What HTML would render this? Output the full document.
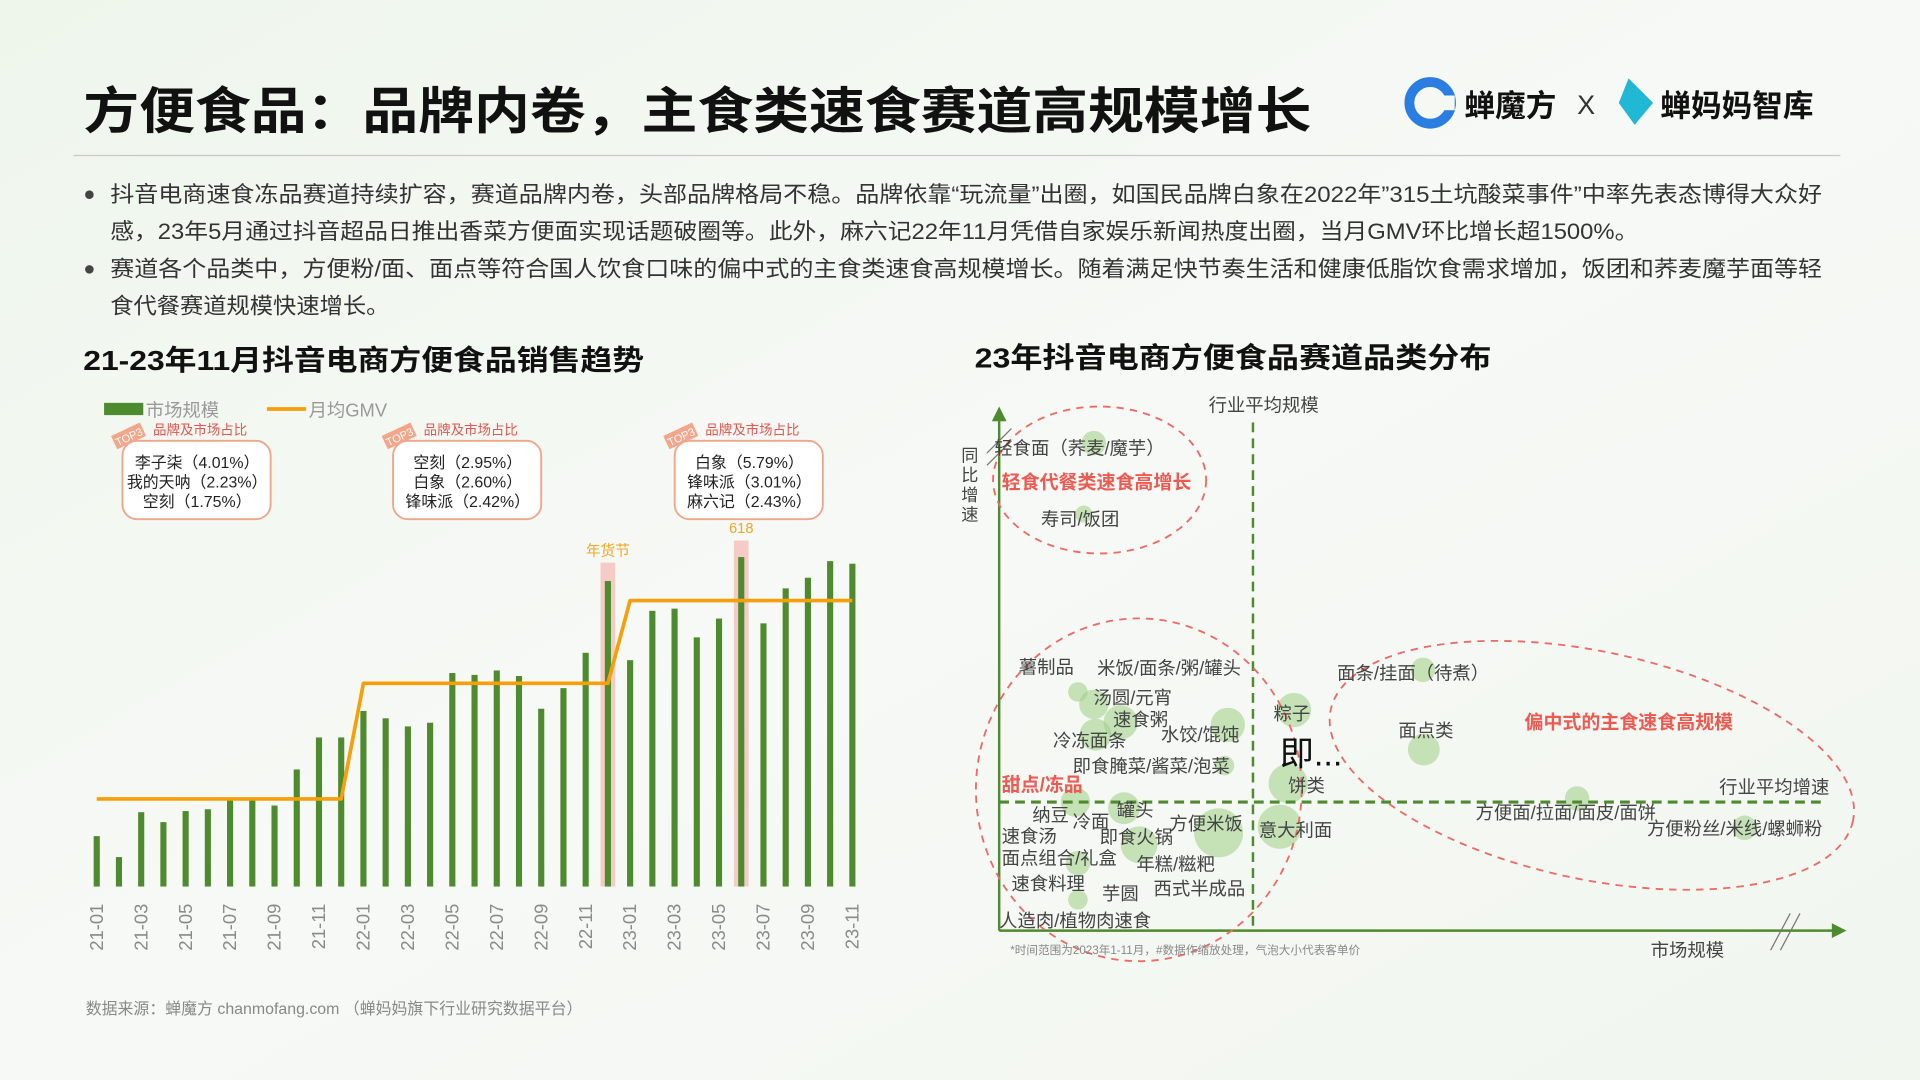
<!DOCTYPE html>
<html><head><meta charset="utf-8">
<style>
html,body{margin:0;padding:0;width:1920px;height:1080px;overflow:hidden;background:#f4f8f3;}
svg{display:block;font-family:"Liberation Sans","Noto Sans CJK SC",sans-serif;}
</style></head>
<body>
<svg id="root" width="1920" height="1080" viewBox="0 0 1568 882">
<defs>
<linearGradient id="bg" x1="0" y1="0" x2="1" y2="1">
<stop offset="0" stop-color="#eef6ec"/><stop offset="0.5" stop-color="#f7f9f6"/><stop offset="1" stop-color="#f1f6ef"/>
</linearGradient>
</defs>
<rect width="1568" height="882" fill="url(#bg)"/>

<text x="68" y="105" font-size="41" font-weight="bold" fill="#111" textLength="1003" lengthAdjust="spacingAndGlyphs">方便食品：品牌内卷，主食类速食赛道高规模增长</text>
<g>
<circle cx="1168" cy="84" r="17" fill="none" stroke="#2a7de1" stroke-width="8"/>
<rect x="1170" y="78" width="18" height="12" fill="#f4f8f3"/>
<text x="1196" y="95" font-size="25" font-weight="bold" fill="#111">蝉魔方</text>
</g>
<text x="1288" y="93" font-size="22" fill="#333">X</text>
<g>
<path d="M1330 64 L1350 84 L1335 102 L1322 84 Z" fill="#21b8d6"/>
<text x="1356" y="95" font-size="25" font-weight="bold" fill="#111">蝉妈妈智库</text>
</g>
<line x1="60" y1="127" x2="1503" y2="127" stroke="#c8c8c8" stroke-width="1"/>

<g font-size="18" fill="#333">
<circle cx="73" cy="159" r="3.5" fill="#444"/>
<text x="90" y="165" textLength="1398" lengthAdjust="spacingAndGlyphs">抖音电商速食冻品赛道持续扩容，赛道品牌内卷，头部品牌格局不稳。品牌依靠“玩流量”出圈，如国民品牌白象在2022年”315土坑酸菜事件”中率先表态博得大众好</text>
<text x="90" y="195" textLength="1248" lengthAdjust="spacingAndGlyphs">感，23年5月通过抖音超品日推出香菜方便面实现话题破圈等。此外，麻六记22年11月凭借自家娱乐新闻热度出圈，当月GMV环比增长超1500%。</text>
<circle cx="73" cy="220" r="3.5" fill="#444"/>
<text x="90" y="226" textLength="1398" lengthAdjust="spacingAndGlyphs">赛道各个品类中，方便粉/面、面点等符合国人饮食口味的偏中式的主食类速食高规模增长。随着满足快节奏生活和健康低脂饮食需求增加，饭团和荞麦魔芋面等轻</text>
<text x="90" y="256" textLength="228" lengthAdjust="spacingAndGlyphs">食代餐赛道规模快速增长。</text>
</g>

<text x="68" y="302" font-size="23" font-weight="bold" fill="#111" textLength="458" lengthAdjust="spacingAndGlyphs">21-23年11月抖音电商方便食品销售趋势</text>
<text x="796" y="300" font-size="23" font-weight="bold" fill="#111" textLength="422" lengthAdjust="spacingAndGlyphs">23年抖音电商方便食品赛道品类分布</text>

<g>
<rect x="85" y="329" width="32" height="10" fill="#4e8a2e"/>
<text x="119" y="340" font-size="15" fill="#999">市场规模</text>
<line x1="218" y1="334" x2="250" y2="334" stroke="#f5a00a" stroke-width="3"/>
<text x="252" y="340" font-size="15" fill="#999">月均GMV</text>
</g>

<g id="bars"></g>
<g id="bubble"></g>

<text x="70" y="828" font-size="13" fill="#888">数据来源：蝉魔方 chanmofang.com （蝉妈妈旗下行业研究数据平台）</text>
<text x="825" y="779" font-size="9.5" fill="#888">*时间范围为2023年1-11月，#数据作缩放处理，气泡大小代表客单价</text>

<script>
const NS="http://www.w3.org/2000/svg";
function mk(parent,tag,attrs,txt){const e=document.createElementNS(NS,tag);for(const k in attrs)e.setAttribute(k,attrs[k]);if(txt!==undefined)e.textContent=txt;parent.appendChild(e);return e;}

const months=["21-01","21-02","21-03","21-04","21-05","21-06","21-07","21-08","21-09","21-10","21-11","21-12","22-01","22-02","22-03","22-04","22-05","22-06","22-07","22-08","22-09","22-10","22-11","22-12","23-01","23-02","23-03","23-04","23-05","23-06","23-07","23-08","23-09","23-10","23-11"];
const marketSize=[137,80,202,175,205,210,235,242,220,318,405,405,477,457,435,445,580,575,587,572,483,539,635,830,615,749,755,677,728,895,715,810,839,884,877];
const gmvLevels=[238,238,238,238,238,238,238,238,238,238,238,238,552,552,552,552,552,552,552,552,552,552,552,552,777,777,777,777,777,777,777,777,777,777,777];
const highlights=["22-12","23-06"];
const highlightLabels=["年货节","618"];
const boxBrands=[["李子柒（4.01%）","我的天呐（2.23%）","空刻（1.75%）"],["空刻（2.95%）","白象（2.60%）","锋味派（2.42%）"],["白象（5.79%）","锋味派（3.01%）","麻六记（2.43%）"]];

const bx=i=>79+i*18.15;
const by=v=>724-v*0.3006;
const bars=document.getElementById('bars');
highlights.forEach((m,k)=>{
  const i=months.indexOf(m);
  const top=i===29?940:880;
  const r=mk(bars,'rect',{x:bx(i)-6,y:by(top),width:12,height:724-by(top),fill:'#f4b8b0',opacity:0.7});
  
  
  const t=mk(bars,'text',{x:bx(i),y:by(top)-6,'font-size':12,fill:'#f5a623','text-anchor':'middle'},highlightLabels[k]);
  
  
});
months.forEach((m,i)=>{
  const r=mk(bars,'rect',{x:bx(i)-2.5,y:by(marketSize[i]),width:5,height:724-by(marketSize[i]),fill:'#4e8a2e'});
  
  
  if(i%2===0){
    const t=mk(bars,'text',{x:0,y:0,'font-size':15,fill:'#8a8a8a','text-anchor':'end',transform:`translate(${bx(i)+5},738) rotate(-90)`},m);
    
    
  }
});
let pts=months.map((m,i)=>`${bx(i)},${by(gmvLevels[i])}`);
const gl=mk(bars,'polyline',{points:pts.join(' '),fill:'none',stroke:'#f5a00a','stroke-width':3,'stroke-linejoin':'round'});



const boxX=[100,321,551];
boxBrands.forEach((lines,k)=>{
  const g=mk(bars,'g',{});
  
  
  const x=boxX[k];
  mk(g,'rect',{x:x,y:360,width:121,height:64,rx:12,fill:'#fff',stroke:'#f0a58a','stroke-width':1.5});
  mk(g,'rect',{x:x-8,y:350,width:26,height:12,fill:'#f4a58a',transform:`rotate(-25 ${x+5} 356)`});
  mk(g,'text',{x:x+5,y:360,'font-size':9,fill:'#fff','text-anchor':'middle',transform:`rotate(-25 ${x+5} 356)`},'TOP3');
  mk(g,'text',{x:x+25,y:355,'font-size':11,fill:'#e8544e'},'品牌及市场占比');
  lines.forEach((l,j)=>mk(g,'text',{x:x+61,y:382+j*16,'font-size':13,fill:'#222','text-anchor':'middle'},l));
});

const catNames=["轻食面","寿司/饭团","薯制品","汤圆/元宵","速食粥","冷冻面条","水饺/馄饨","即食腌菜","粽子","饼类","面条/挂面","面点类","方便面","方便粉丝","纳豆","罐头","方便米饭","即食火锅","意大利面","面点组合","人造肉"];
const scaleVals=[11.3,10.1,9.4,11.3,14.5,11.5,27.3,26.9,35.2,34.5,50.6,50.7,69,89,9.1,14.9,26.2,16.7,33.5,9.4,9.4];
const growthVals=[94.8,81,46.4,44,40.5,38.1,40,32.1,42.9,28.6,50.7,35.2,25.7,20,25,23.8,19,16.7,20.2,13.1,6];
const unitPrice=[10,7,8,12,14,13,14,8,14,16,10,13,10,10,12,13,20,15,18,10,8];
const avgScale=30.3, avgGrowth=25;

const sx=v=>816+v*6.84;
const sy=v=>760-v*4.2;
const bc=document.getElementById('bubble');
catNames.forEach((n,i)=>{
  const c=mk(bc,'circle',{cx:sx(scaleVals[i]),cy:sy(growthVals[i]),r:unitPrice[i],fill:'#9ccf84',opacity:0.55});
  
  
});
const ax=mk(bc,'g',{stroke:'#4e8a2e','stroke-width':2});


mk(ax,'line',{x1:816,y1:760,x2:816,y2:340});
mk(ax,'line',{x1:816,y1:760,x2:1500,y2:760});
mk(bc,'path',{d:'M810 344 L816 332 L822 344 Z',fill:'#4e8a2e'});
mk(bc,'path',{d:'M1496 754 L1508 760 L1496 766 Z',fill:'#4e8a2e'});
mk(bc,'path',{d:'M1446 776 L1462 746 M1454 776 L1470 746',stroke:'#777','stroke-width':1,fill:'none'});
mk(bc,'path',{d:'M806 370 L826 350 M806 380 L826 360',stroke:'#777','stroke-width':1,fill:'none'});
const vl=mk(bc,'line',{x1:sx(avgScale),y1:345,x2:sx(avgScale),y2:760,stroke:'#4e8a2e','stroke-width':2,'stroke-dasharray':'8 5'});


const hl=mk(bc,'line',{x1:816,y1:sy(avgGrowth),x2:1490,y2:sy(avgGrowth),stroke:'#4e8a2e','stroke-width':2.5,'stroke-dasharray':'8 5'});


[[898,392,87,60,0],[930,645,133,140,0],[1300,625,218,93,12]].forEach((e,k)=>{
  const el=mk(bc,'ellipse',{cx:e[0],cy:e[1],rx:e[2],ry:e[3],fill:'none',stroke:'#f06a64','stroke-width':1.5,'stroke-dasharray':'6 5',transform:`rotate(${e[4]} ${e[0]} ${e[1]})`});
  
  
});
const lbls=[["行业平均规模",987,336],["市场规模",1348,781],["行业平均增速",1404,648],["轻食面（荞麦/魔芋）",812,371],["寿司/饭团",850,429],["薯制品",832,550],["米饭/面条/粥/罐头",896,551],["汤圆/元宵",893,575],["速食粥",909,593],["冷冻面条",860,610],["水饺/馄饨",948,605],["即食腌菜/酱菜/泡菜",876,631],["粽子",1040,588],["饼类",1052,647],["面条/挂面（待煮）",1092,555],["面点类",1142,602],["方便面/拉面/面皮/面饼",1205,669],["方便粉丝/米线/螺蛳粉",1345,682],["纳豆",843,671],["冷面",876,676],["罐头",912,667],["方便米饭",955,678],["速食汤",818,688],["即食火锅",898,689],["意大利面",1028,683],["面点组合/礼盒",818,706],["年糕/糍粑",928,711],["速食料理",826,727],["芋圆",900,735],["西式半成品",942,731],["人造肉/植物肉速食",816,757]];
lbls.forEach(l=>{
  const t=mk(bc,'text',{x:l[1],y:l[2],'font-size':15,fill:'#444'},l[0]);
  
  
});
[["同",785,377],["比",785,393],["增",785,409],["速",785,425]].forEach(l=>mk(bc,'text',{x:l[1],y:l[2],'font-size':14,fill:'#444'},l[0]));
const ji=mk(bc,'text',{x:1045,y:625,'font-size':28,fill:'#111'},'即...');


[["轻食代餐类速食高增长",818,399],["甜点/冻品",818,646],["偏中式的主食速食高规模",1245,595]].forEach(l=>{
  const t=mk(bc,'text',{x:l[1],y:l[2],'font-size':15.5,'font-weight':'bold',fill:'#ee5a52'},l[0]);
  
  
});
</script>
</svg>
</body></html>
